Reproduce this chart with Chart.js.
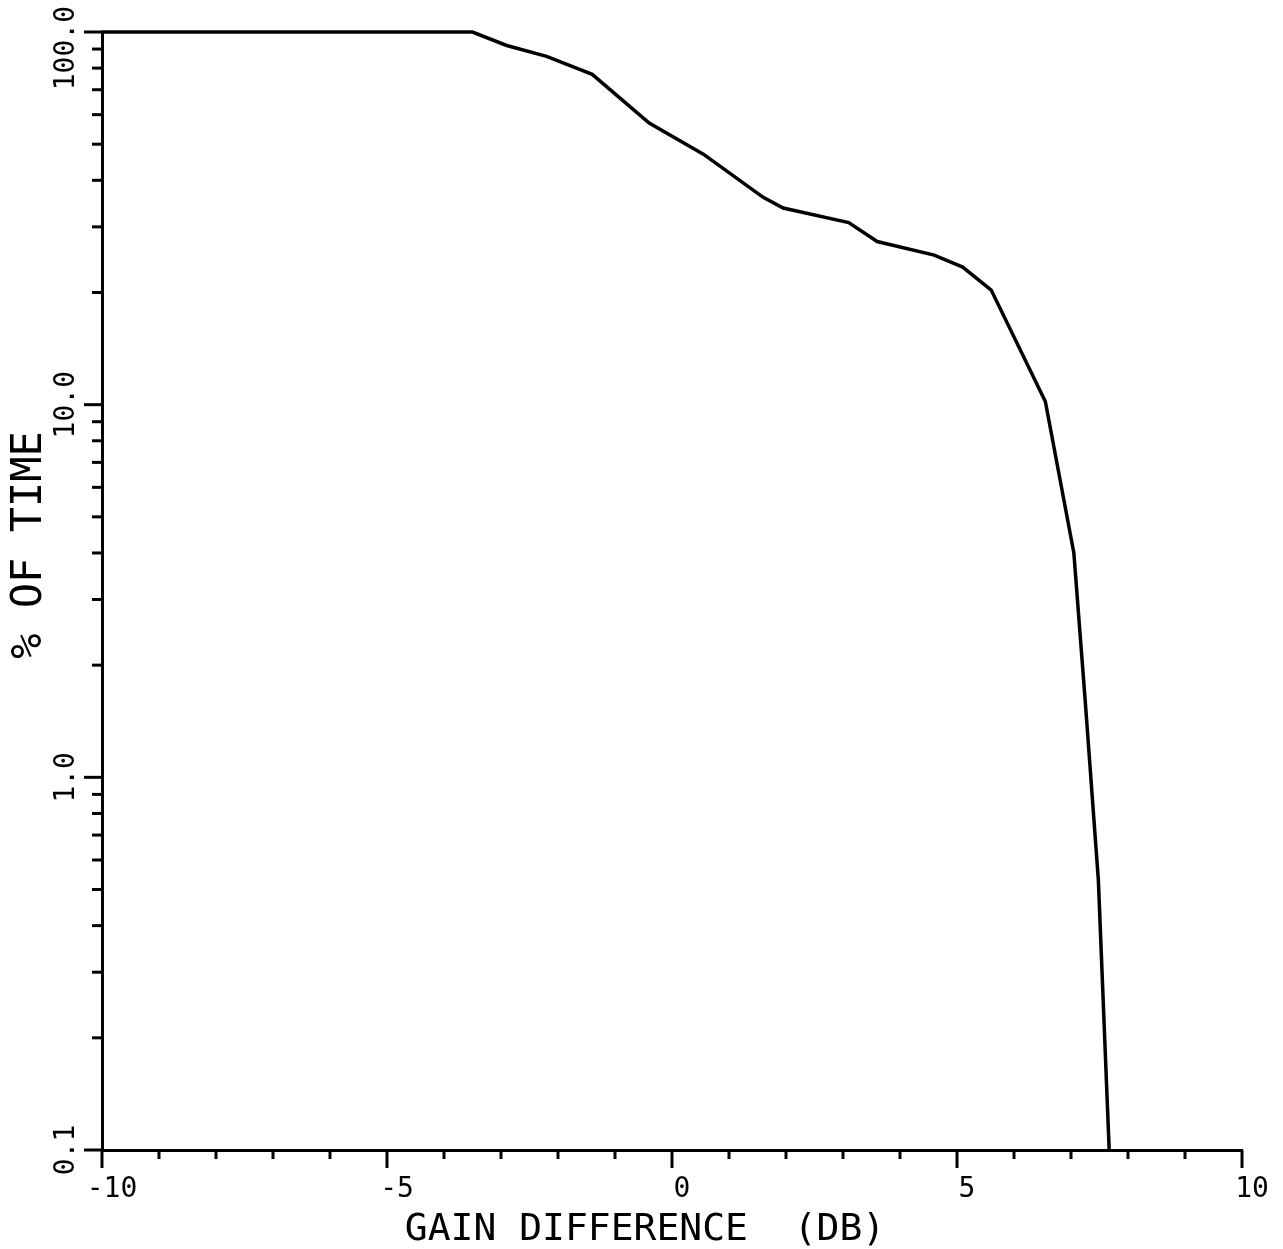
<!DOCTYPE html>
<html lang="en">
<head>
    <meta charset="UTF-8">
    <title>% of time vs gain difference</title>
    <script src="https://cdn.jsdelivr.net/npm/chart.js"></script>
    <style>
        html, body { margin: 0; padding: 0; background: #fff; }
        #wrap { width: 1283px; height: 1249px; }
    </style>
</head>
<body>
    <div id="wrap"><canvas id="chart"></canvas></div>

    <script>
        // curve
        const gainDb  = [-10, -3.5, -2.9, -2.2, -1.4, -0.4, 0.55, 1.6, 1.95, 3.1, 3.6, 4.6, 5.1, 5.6, 6.55, 7.05, 7.25, 7.48, 7.58, 7.67];
        const pctTime = [100, 100, 92, 86, 77, 57, 47, 36, 33.7, 30.8, 27.4, 25.2, 23.4, 20.3, 10.2, 4.0, 1.6, 0.53, 0.22, 0.1];

        // axes
        const xTicks = [-10, -5, 0, 5, 10];
        const xTickLabels = ['-10', '-5', '0', '5', '10'];
        const yTicks = [0.1, 1, 10, 100];
        const yTickLabels = ['0.1', '1.0', '10.0', '100.0'];
        const xTitle = 'GAIN DIFFERENCE  (DB)';
        const yTitle = '% OF TIME';

        const FONT = '"DejaVu Sans Mono", "Liberation Mono", monospace';

        // plotter-style ticks and labels, placed with the chart scales
        const plotterAxes = {
            id: 'plotterAxes',
            afterDraw(chart) {
                const ctx = chart.ctx;
                const xs = chart.scales.x, ys = chart.scales.y;
                const axX = xs.getPixelForValue(-10);
                const axY = ys.getPixelForValue(0.1);
                ctx.save();
                ctx.strokeStyle = '#000';
                ctx.lineWidth = 3;
                ctx.lineCap = 'butt';

                // y ticks: decades long, 2..9 short
                yTicks.forEach(function (d, i) {
                    const mults = i < yTicks.length - 1 ? [1,2,3,4,5,6,7,8,9] : [1];
                    mults.forEach(function (m) {
                        const py = ys.getPixelForValue(d * m);
                        const len = m === 1 ? 18 : 10;
                        ctx.beginPath();
                        ctx.moveTo(axX, py);
                        ctx.lineTo(axX - len, py);
                        ctx.stroke();
                    });
                });

                // x ticks: every 1 dB, every 5 longer
                for (let v = -10; v <= 10; v++) {
                    const px = xs.getPixelForValue(v);
                    const len = v % 5 === 0 ? 18 : 9;
                    ctx.beginPath();
                    ctx.moveTo(px, axY);
                    ctx.lineTo(px, axY + len);
                    ctx.stroke();
                }

                ctx.fillStyle = '#000';

                // x tick labels
                ctx.font = '28px ' + FONT;
                ctx.textAlign = 'center';
                ctx.textBaseline = 'middle';
                xTicks.forEach(function (v, i) {
                    ctx.fillText(xTickLabels[i], xs.getPixelForValue(v) + 10, axY + 40);
                });

                // y tick labels, rotated to read upward
                yTickLabels.forEach(function (t, i) {
                    const w = ctx.measureText(t).width;
                    let cy = ys.getPixelForValue(yTicks[i]);
                    cy = Math.max(cy, 6 + w / 2);
                    ctx.save();
                    ctx.translate(67, cy);
                    ctx.rotate(-Math.PI / 2);
                    ctx.fillText(t, 0, 0);
                    ctx.restore();
                });

                // titles
                ctx.font = '38px ' + FONT;
                ctx.fillText(xTitle, 645, 1230);

                ctx.save();
                ctx.font = '42px ' + FONT;
                ctx.translate(30, 545);
                ctx.rotate(-Math.PI / 2);
                ctx.fillText(yTitle, 0, 0);
                ctx.restore();

                ctx.restore();
            }
        };

        const points = gainDb.map(function (x, i) { return { x: x, y: pctTime[i] }; });

        new Chart(document.getElementById('chart'), {
            type: 'line',
            data: {
                datasets: [{
                    data: points,
                    borderColor: '#000',
                    borderWidth: 3.5,
                    pointRadius: 0,
                    tension: 0,
                    fill: false,
                    clip: 10
                }]
            },
            options: {
                responsive: true,
                maintainAspectRatio: false,
                animation: false,
                events: [],
                layout: { padding: { top: 32, right: 41, left: 0, bottom: 0 } },
                plugins: {
                    legend: { display: false },
                    tooltip: { enabled: false }
                },
                scales: {
                    x: {
                        type: 'linear',
                        min: -10,
                        max: 10,
                        grid: { display: false },
                        border: { display: true, color: '#000', width: 3 },
                        ticks: { display: false },
                        afterFit: function (s) { s.height = 99; }
                    },
                    y: {
                        type: 'logarithmic',
                        min: 0.1,
                        max: 100,
                        grid: { display: false },
                        border: { display: true, color: '#000', width: 3 },
                        ticks: { display: false },
                        afterFit: function (s) { s.width = 102; }
                    }
                }
            },
            plugins: [plotterAxes]
        });
    </script>
</body>
</html>
